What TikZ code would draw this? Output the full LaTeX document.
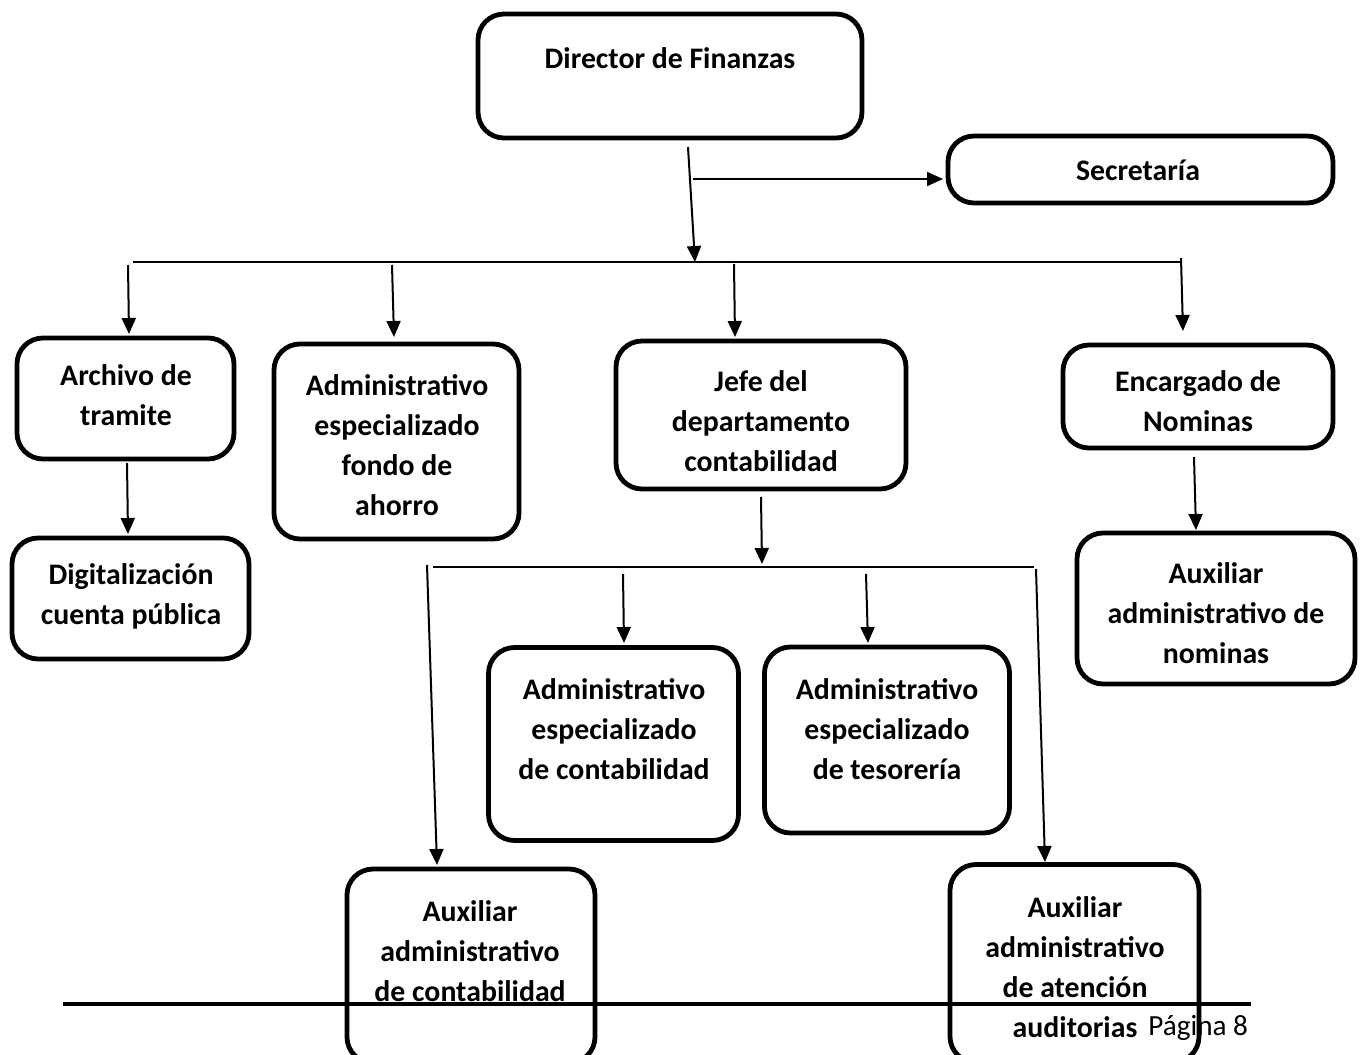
\documentclass[tikz,border=0pt]{standalone}
\usepackage{fontspec}
\setmainfont{Carlito}
\usetikzlibrary{arrows.meta,calc}
\begin{document}
\begin{tikzpicture}[x=0.5pt,y=-0.5pt,
  box/.style={draw=black,line width=2.4pt,rounded corners=13pt,minimum width=#1},
  lbl/.style={align=center,font=\fontsize{14.9}{20}\selectfont\bfseries,inner sep=0pt},
  conn/.style={line width=1pt},
  arr/.style={line width=1pt,-{Triangle[length=8pt,width=7pt]}}]
\clip (0,0) rectangle (1366,1055);
\fill[white] (0,0) rectangle (1366,1055);
% boxes
\node[box=192pt,minimum height=62pt]   (dir)     at (670,76)    {};
\node[box=192.5pt,minimum height=33.5pt] (sec)   at (1140.5,169.5) {};
\node[box=108.5pt,minimum height=60.5pt] (arch)  at (125.5,398.5) {};
\node[box=122.5pt,minimum height=97.5pt] (fondo) at (396.5,441.5) {};
\node[box=145pt,minimum height=74pt]   (jefe)    at (761,415)   {};
\node[box=135pt,minimum height=51.5pt] (enc)     at (1198,396.5) {};
\node[box=118.5pt,minimum height=60.5pt] (dig)   at (130.5,598.5) {};
\node[box=139pt,minimum height=75.5pt] (auxnom)  at (1216,608.5) {};
\node[box=125pt,minimum height=96.5pt] (adcont)  at (613.5,744)  {};
\node[box=122.5pt,minimum height=93pt] (adtes)   at (887,740)   {};
\node[box=124pt,minimum height=97pt]   (auxcont) at (471,966)   {};
\node[box=124.5pt,minimum height=99pt] (auxaud)  at (1074.5,963.5) {};
% texts
\node[lbl] (dirt)     at (670,58)   {Director de Finanzas};
\node[lbl] (sect)     at (1138,170) {Secretaría};
\node[lbl] (archt)    at (126,395)  {Archivo de\\tramite};
\node[lbl] (fondot)   at (397,445)  {Administrativo\\especializado\\fondo de\\ahorro};
\node[lbl] (jefet)    at (761,421)  {Jefe del\\departamento\\contabilidad};
\node[lbl] (enct)     at (1198,401) {Encargado de\\Nominas};
\node[lbl] (digt)     at (131,596)  {Digitalización\\cuenta pública};
\node[lbl] (auxnomt)  at (1216,613) {Auxiliar\\administrativo de\\nominas};
\node[lbl] (adcontt)  at (614,729)  {Administrativo\\especializado\\de contabilidad};
\node[lbl] (adtest)   at (887,729)  {Administrativo\\especializado\\de tesorería};
\node[lbl] (auxcontt) at (470,951)  {Auxiliar\\administrativo\\de contabilidad};
\node[lbl] (auxaudt)  at (1075,967) {Auxiliar\\administrativo\\de atención\\auditorias};
\node[anchor=west,inner sep=0pt,font=\fontsize{14.6}{20}\selectfont] (pag) at (1148,1028) {Página 8};
% footer rule
\coordinate (fL) at (63,1004);
\coordinate (fR) at (1251,1004);
\draw[line width=2.2pt] (fL) -- (fR);
% connector coordinates
\coordinate (d0) at (688,147);  \coordinate (d1) at (695,262);
\coordinate (s0) at (693,179);  \coordinate (s1) at (943,179);
\coordinate (bL) at (133,262);  \coordinate (bR) at (1182,262);
\coordinate (a0) at (128,265);  \coordinate (a1) at (129,334);
\coordinate (f0) at (392,265);  \coordinate (f1) at (394,337);
\coordinate (j0) at (734,264);  \coordinate (j1) at (735,337);
\coordinate (e0) at (1181,258); \coordinate (e1) at (1183,331);
\coordinate (g0) at (127,463);  \coordinate (g1) at (128,534);
\coordinate (h0) at (1194,457); \coordinate (h1) at (1196,530);
\coordinate (k0) at (761,497);  \coordinate (k1) at (762,564);
\coordinate (cL) at (433,567);  \coordinate (cR) at (1034,567);
\coordinate (l0) at (427,565);  \coordinate (l1) at (437,865);
\coordinate (r0) at (1036,569); \coordinate (r1) at (1045,862);
\coordinate (m0) at (623,574);  \coordinate (m1) at (624,643);
\coordinate (n0) at (866,574);  \coordinate (n1) at (868,643);
% connectors
\draw[arr] (d0) -- (d1);
\draw[arr] (s0) -- (s1);
\draw[conn] (bL) -- (bR);
\draw[arr] (a0) -- (a1);
\draw[arr] (f0) -- (f1);
\draw[arr] (j0) -- (j1);
\draw[arr] (e0) -- (e1);
\draw[arr] (g0) -- (g1);
\draw[arr] (h0) -- (h1);
\draw[arr] (k0) -- (k1);
\draw[conn] (cL) -- (cR);
\draw[arr] (l0) -- (l1);
\draw[arr] (r0) -- (r1);
\draw[arr] (m0) -- (m1);
\draw[arr] (n0) -- (n1);
\end{tikzpicture}
\end{document}
